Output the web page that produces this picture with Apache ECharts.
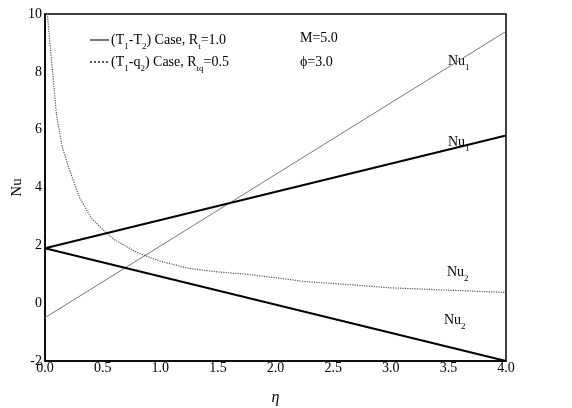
<!DOCTYPE html>
<html><head><meta charset="utf-8">
<script src="https://cdn.jsdelivr.net/npm/echarts@6/dist/echarts.min.js"></script>
<style>html,body{margin:0;padding:0;background:#fff}#c{width:572px;height:408px}</style>
</head><body><div id="c"></div>
<script>
var xTicks = ['0.0','0.5','1.0','1.5','2.0','2.5','3.0','3.5','4.0'];
var etaLine = [0, 4];
var thinNu1 = [-0.5, 9.4];
var boldNu1 = [1.9, 5.8];
var boldNu2 = [1.9, -2.0];
var curveEta = [0.02, 0.1, 0.15, 0.2, 0.25, 0.3, 0.4, 0.5, 0.6, 0.8, 1.0, 1.25, 1.5, 1.75, 2.0, 2.25, 2.5, 3.0, 3.5, 4.0];
var curveNu  = [10, 6.5, 5.4, 4.75, 4.2, 3.65, 2.95, 2.55, 2.2, 1.75, 1.45, 1.2, 1.08, 1.0, 0.88, 0.75, 0.68, 0.53, 0.45, 0.37];

function pairs(xs, ys){ return xs.map(function(x,i){return [x, ys[i]];}); }
var font = 'Liberation Serif';
var rich = {
  n:{fontFamily:font,fontSize:14,color:'#000'},
  s:{fontFamily:font,fontSize:9,color:'#000',verticalAlign:'bottom',padding:[0,0,-4,0]}
};
var chart = echarts.init(document.getElementById('c'));
chart.setOption({
  animation:false,
  backgroundColor:'#fff',
  grid:{left:45,right:66,top:14,bottom:47,show:true,borderColor:'#000',borderWidth:1.5,outerBoundsMode:'none',containLabel:false},
  legend:{
    data:['T1T2','T1q2'],
    orient:'vertical', left:84, top:28, itemWidth:19, itemHeight:8, itemGap:4,
    itemStyle:{opacity:0},
    textStyle:{rich:rich,padding:[0,0,0,-3]},
    formatter:function(n){
      return n==='T1T2' ? '{n|(T}{s|1}{n|-T}{s|2}{n|) Case, R}{s|t}{n|=1.0}'
                        : '{n|(T}{s|1}{n|-q}{s|2}{n|) Case, R}{s|tq}{n|=0.5}';
    }
  },
  xAxis:{type:'value',min:0,max:4,interval:0.5,
    axisLine:{onZero:false,lineStyle:{color:'#000',width:1.5}},axisTick:{show:false},splitLine:{show:false},
    axisLabel:{margin:0,color:'#000',fontFamily:font,fontSize:14,formatter:function(v){return v.toFixed(1);}},
    name:'η',nameLocation:'middle',nameGap:29,nameMoveOverlap:false,nameTextStyle:{fontFamily:font,fontSize:16,color:'#000',fontStyle:'italic'}},
  yAxis:{type:'value',min:-2,max:10,interval:2,
    axisLine:{onZero:false,lineStyle:{color:'#000',width:1.5}},axisTick:{show:false},splitLine:{show:false},
    axisLabel:{margin:3,color:'#000',fontFamily:font,fontSize:14},
    name:'Nu',nameLocation:'middle',nameGap:20,nameMoveOverlap:false,nameTextStyle:{fontFamily:font,fontSize:15,color:'#000'}},
  series:[
    {name:'T1T2',type:'line',symbol:'none',color:'#777',data:pairs(etaLine,thinNu1),lineStyle:{color:'#777',width:1}},
    {name:'T1q2',type:'line',symbol:'none',color:'#555',data:pairs(curveEta,curveNu),lineStyle:{color:'#555',width:1.2,type:'dotted'}},
    {name:'b1',type:'line',symbol:'none',color:'#000',data:pairs(etaLine,boldNu1),lineStyle:{color:'#000',width:2}},
    {name:'b2',type:'line',symbol:'none',color:'#000',data:pairs(etaLine,boldNu2),lineStyle:{color:'#000',width:2}}
  ],
  graphic:[
    {type:'text',left:300,top:31,style:{text:'M=5.0',font:'14px '+font,fill:'#000'}},
    {type:'text',left:300,top:55,style:{text:'ϕ=3.0',font:'14px '+font,fill:'#000'}},
    {type:'text',left:448,top:54,style:{text:'{n|Nu}{s|1}',rich:rich}},
    {type:'text',left:448,top:135,style:{text:'{n|Nu}{s|1}',rich:rich}},
    {type:'text',left:447,top:265,style:{text:'{n|Nu}{s|2}',rich:rich}},
    {type:'text',left:444,top:313,style:{text:'{n|Nu}{s|2}',rich:rich}}
  ]
});
</script></body></html>
